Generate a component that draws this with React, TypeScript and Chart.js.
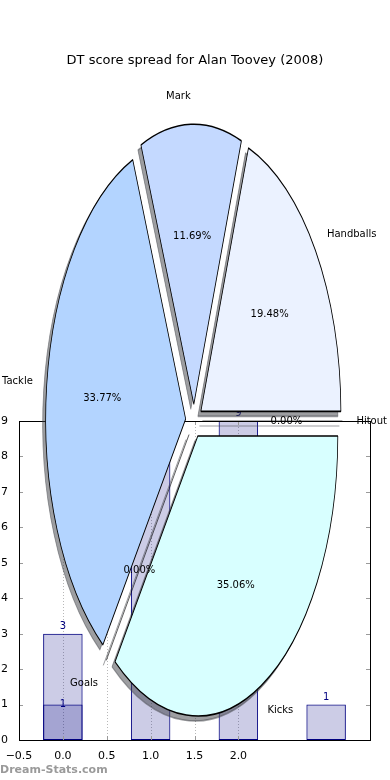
import React, { useEffect, useRef } from 'react';
import { Chart, registerables } from 'chart.js';

Chart.register(...registerables);

// ---------- text ----------
const TITLE = 'DT score spread for Alan Toovey (2008)';
const WATERMARK = 'Dream-Stats.com';

// ---------- pie data (matplotlib order: counter-clockwise from 3 o'clock) ----------
const PIE_LABELS = ['Handballs', 'Mark', 'Tackle', 'Goals', 'Kicks', 'Hitout'];
const PIE_VALUES = [15, 9, 26, 0, 27, 0];
const PIE_COLORS = ['#ebf2ff', '#c4d9ff', '#b3d4ff', '#cfe2ff', '#d8ffff', '#eeeeff'];

// ---------- bar data ----------
const BAR_X = [0, 1, 2, 3];
const BAR_VALUES = [3, 8, 9, 1];
const BAR2_X = [0];
const BAR2_VALUES = [1];
const X_TICKS = [-0.5, 0, 0.5, 1, 1.5, 2];
const Y_TICKS = [0, 1, 2, 3, 4, 5, 6, 7, 8, 9];

// ---------- styling ----------
const FONT = "'DejaVu Sans', sans-serif";
const NAVY = '#000080';
const BAR_FILL = 'rgba(0,0,128,0.2)';
const ASPECT = 2; // vertical stretch of the pie
const RADIUS = 140;
const EXPLODE = 8.4;
const SHADOW_DX = -3;
const SHADOW_DY = 5;
const SHADOW_COLOR = 'rgba(60,62,68,0.5)';

function ellipse(ctx: CanvasRenderingContext2D, cx: number, cy: number) {
  ctx.translate(cx, cy);
  ctx.scale(1, ASPECT);
  ctx.translate(-cx, -cy);
}

function explodeShift(ctx: CanvasRenderingContext2D, a: any) {
  const m = (a.startAngle + a.endAngle) / 2;
  ctx.translate(Math.cos(m) * EXPLODE, Math.sin(m) * EXPLODE);
}

const barDecor = {
  id: 'barDecor',
  beforeDatasetsDraw(chart: any) {
    const { ctx, chartArea: a, scales } = chart;
    ctx.save();
    ctx.strokeStyle = '#b8b8b8';
    ctx.lineWidth = 1;
    ctx.setLineDash([1, 2]);
    X_TICKS.forEach((v) => {
      const px = Math.round(scales.x.getPixelForValue(v)) + 0.5;
      ctx.beginPath();
      ctx.moveTo(px, a.top);
      ctx.lineTo(px, a.bottom);
      ctx.stroke();
    });
    ctx.restore();
  },
  afterDatasetsDraw(chart: any) {
    const { ctx, chartArea: a, scales } = chart;
    ctx.save();
    ctx.fillStyle = NAVY;
    ctx.font = `10px ${FONT}`;
    ctx.textAlign = 'center';
    ctx.textBaseline = 'alphabetic';
    chart.data.datasets.forEach((ds: any, di: number) => {
      const meta = chart.getDatasetMeta(di);
      meta.data.forEach((el: any, i: number) => {
        const v = ds.data[i].y;
        if (!v) return;
        const dy = di === 0 ? -5 : 2.5;
        ctx.fillText(String(v), el.x, el.y + dy);
      });
    });
    ctx.strokeStyle = '#9a9a9a';
    ctx.lineWidth = 1;
    Y_TICKS.forEach((v) => {
      const py = Math.round(scales.y.getPixelForValue(v)) + 0.5;
      ctx.beginPath();
      ctx.moveTo(a.left, py);
      ctx.lineTo(a.left + 4, py);
      ctx.moveTo(a.right, py);
      ctx.lineTo(a.right - 4, py);
      ctx.stroke();
    });
    X_TICKS.forEach((v) => {
      const px = Math.round(scales.x.getPixelForValue(v)) + 0.5;
      ctx.beginPath();
      ctx.moveTo(px, a.bottom);
      ctx.lineTo(px, a.bottom - 4);
      ctx.moveTo(px, a.top);
      ctx.lineTo(px, a.top + 4);
      ctx.stroke();
    });
    ctx.strokeStyle = '#000';
    ctx.lineWidth = 1;
    ctx.strokeRect(Math.round(a.left) + 0.5, Math.round(a.top) + 0.5, Math.round(a.right - a.left), Math.round(a.bottom - a.top));
    ctx.restore();
  },
};

const pieDecor = {
  id: 'pieDecor',
  beforeDatasetDraw(chart: any) {
    const ctx = chart.ctx;
    const arcs = chart.getDatasetMeta(0).data;
    const cx = arcs[0].x;
    const cy = arcs[0].y;
    const vals = chart.data.datasets[0].data;
    const FAR = 4000;
    // shadow pass: shapes drawn far off-canvas, only their shadow lands on the canvas
    arcs.forEach((a: any) => {
      ctx.save();
      ctx.translate(-FAR, 0);
      ctx.shadowColor = SHADOW_COLOR;
      ctx.shadowBlur = 0;
      ctx.shadowOffsetX = FAR + SHADOW_DX;
      ctx.shadowOffsetY = SHADOW_DY;
      ellipse(ctx, cx, cy);
      explodeShift(ctx, a);
      a.draw(ctx);
      ctx.restore();
    });
    // zero-size wedges: shadow lines
    ctx.save();
    ctx.strokeStyle = SHADOW_COLOR;
    ctx.lineWidth = 1;
    arcs.forEach((a: any, i: number) => {
      if (vals[i] !== 0) return;
      const m = (a.startAngle + a.endAngle) / 2;
      const c = Math.cos(m), s = Math.sin(m);
      ctx.beginPath();
      ctx.moveTo(cx + c * EXPLODE + SHADOW_DX, cy + s * EXPLODE * ASPECT + SHADOW_DY);
      ctx.lineTo(cx + c * (EXPLODE + a.outerRadius) + SHADOW_DX, cy + s * (EXPLODE + a.outerRadius) * ASPECT + SHADOW_DY);
      ctx.stroke();
    });
    ctx.restore();
    // main pass: exploded, vertically stretched wedges
    arcs.forEach((a: any) => {
      ctx.save();
      ellipse(ctx, cx, cy);
      explodeShift(ctx, a);
      a.draw(ctx);
      ctx.restore();
    });
    return false;
  },
  afterDatasetsDraw(chart: any) {
    const ctx = chart.ctx;
    const arcs = chart.getDatasetMeta(0).data;
    const labels = chart.data.labels;
    const vals = chart.data.datasets[0].data;
    const total = vals.reduce((s: number, v: number) => s + v, 0);
    ctx.save();
    arcs.forEach((a: any, i: number) => {
      const m = (a.startAngle + a.endAngle) / 2;
      const c = Math.cos(m), s = Math.sin(m);
      const at = (r: number) => [a.x + c * (EXPLODE + r), a.y + s * (EXPLODE + r) * ASPECT];
      if (vals[i] === 0) {
        const [x0, y0] = at(0);
        const [x1, y1] = at(a.outerRadius);
        ctx.strokeStyle = 'rgba(0,0,0,0.8)';
        ctx.lineWidth = 0.8;
        ctx.beginPath();
        ctx.moveTo(x0, y0);
        ctx.lineTo(x1, y1);
        ctx.stroke();
      }
      ctx.fillStyle = '#000';
      ctx.font = `10px ${FONT}`;
      ctx.textBaseline = 'middle';
      const [lx, ly] = at(a.outerRadius * 1.1);
      ctx.textAlign = c > 0 ? 'left' : 'right';
      ctx.fillText(labels[i], lx, ly);
      const [px, py] = at(a.outerRadius * 0.6);
      ctx.textAlign = 'center';
      ctx.fillText(((vals[i] / total) * 100).toFixed(2) + '%', px, py);
    });
    ctx.restore();
  },
  afterDraw(chart: any) {
    const ctx = chart.ctx;
    ctx.save();
    ctx.fillStyle = '#000';
    ctx.font = `13px ${FONT}`;
    ctx.textAlign = 'center';
    ctx.textBaseline = 'middle';
    ctx.fillText(TITLE, 195, 61);
    ctx.fillStyle = '#9a9a9a';
    ctx.font = `bold 11px ${FONT}`;
    ctx.textAlign = 'left';
    ctx.fillText(WATERMARK, 0, 770);
    ctx.restore();
  },
};

export default function App() {
  const barRef = useRef<HTMLCanvasElement>(null);
  const pieRef = useRef<HTMLCanvasElement>(null);

  useEffect(() => {
    const tickFont = { family: FONT, size: 11 };
    const barDataset = (xs: number[], ys: number[]) => ({
      data: xs.map((x, i) => ({ x, y: ys[i] })),
      backgroundColor: BAR_FILL,
      borderColor: NAVY,
      borderWidth: 1,
      borderSkipped: false,
      grouped: false,
      barPercentage: 0.9,
      categoryPercentage: 1,
    });
    const bar = new Chart(barRef.current as HTMLCanvasElement, {
      type: 'bar',
      data: {
        datasets: [barDataset(BAR_X, BAR_VALUES), barDataset(BAR2_X, BAR2_VALUES)],
      } as any,
      options: {
        animation: false,
        responsive: false,
        events: [],
        layout: { padding: { top: 421, right: 20, left: 0, bottom: 0 } },
        scales: {
          x: {
            type: 'linear',
            offset: false,
            min: -0.5,
            max: 3.5,
            afterBuildTicks: (s: any) => {
              s.ticks = X_TICKS.map((v) => ({ value: v }));
            },
            afterFit: (s: any) => {
              s.height = 40;
            },
            grid: { display: false, offset: false },
            border: { display: false },
            ticks: {
              font: tickFont,
              color: '#000',
              padding: 2,
              maxRotation: 0,
              autoSkip: false,
              callback: (v: any) => (v < 0 ? '\u2212' + Math.abs(v).toFixed(1) : Number(v).toFixed(1)),
            },
          },
          y: {
            min: 0,
            max: 9,
            afterBuildTicks: (s: any) => {
              s.ticks = Y_TICKS.map((v) => ({ value: v }));
            },
            afterFit: (s: any) => {
              s.width = 19;
            },
            grid: { display: false },
            border: { display: false },
            ticks: { font: tickFont, color: '#000', padding: 3, callback: (v: any) => String(v) },
          },
        },
        plugins: { legend: { display: false }, tooltip: { enabled: false } },
      } as any,
      plugins: [barDecor],
    });

    const pie = new Chart(pieRef.current as HTMLCanvasElement, {
      type: 'pie',
      data: {
        labels: [...PIE_LABELS].reverse(),
        datasets: [
          {
            data: [...PIE_VALUES].reverse(),
            backgroundColor: [...PIE_COLORS].reverse(),
            borderColor: '#000',
            borderWidth: 0.8,
            offset: 0,
            hoverOffset: 0,
            radius: RADIUS,
            clip: false,
          },
        ],
      } as any,
      options: {
        animation: false,
        responsive: false,
        events: [],
        rotation: 90,
        layout: { padding: { top: 62, left: 0, right: 2, bottom: 0 } },
        plugins: { legend: { display: false }, tooltip: { enabled: false } },
      } as any,
      plugins: [pieDecor],
    });

    return () => {
      bar.destroy();
      pie.destroy();
    };
  }, []);

  return (
    <div style={{ position: 'absolute', left: 0, top: 0, width: 390, height: 780, background: '#fff', overflow: 'hidden' }}>
      <canvas ref={barRef} width={390} height={780} style={{ position: 'absolute', left: 0, top: 0 }} />
      <canvas ref={pieRef} width={390} height={780} style={{ position: 'absolute', left: 0, top: 0, pointerEvents: 'none' }} />
    </div>
  );
}
